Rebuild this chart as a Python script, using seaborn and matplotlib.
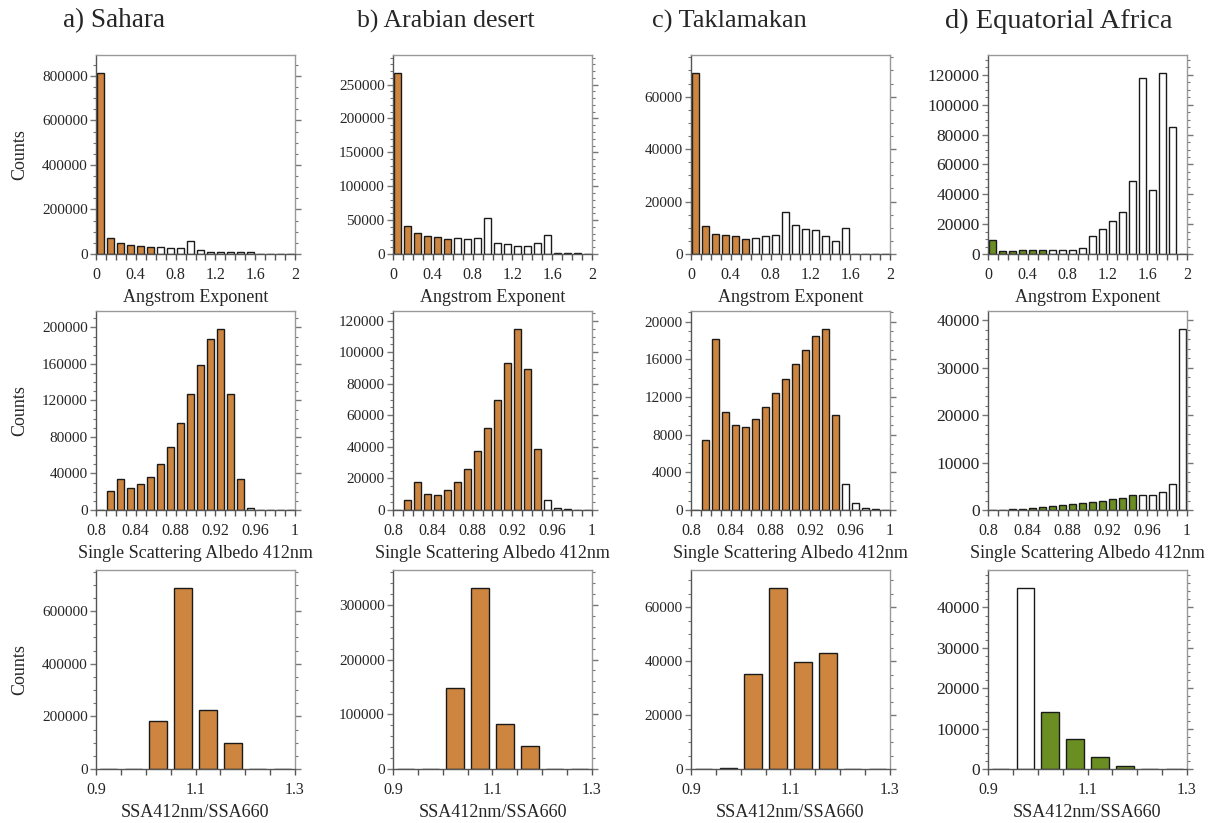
import numpy as np
import pandas as pd
import seaborn as sns
import matplotlib.pyplot as plt
from matplotlib.ticker import MultipleLocator, AutoMinorLocator, FixedLocator, FuncFormatter

# ---- data (counts) ----
regions = ["a) Sahara", "b) Arabian desert", "c) Taklamakan", "d) Equatorial Africa"]

ae_sahara = [813000, 70000, 51000, 40000, 37000, 30000, 30000, 27000, 27000, 60000,
             16000, 10000, 9000, 7500, 7000, 8000, 500, 200, 100, 50]
ae_arabian = [267000, 40700, 30900, 26500, 25500, 22000, 23000, 22000, 23500, 53400,
              16700, 14200, 12300, 11800, 16200, 28000, 1000, 1000, 800, 200]
ae_taklamakan = [69000, 10500, 7700, 7100, 6700, 5800, 6100, 6700, 7100, 16100,
                 10900, 9500, 9200, 6700, 4900, 10100, 100, 50, 150, 30]
ae_eqafrica = [9500, 2200, 2200, 2400, 2400, 2700, 2900, 2900, 2900, 3800,
               12000, 16900, 22000, 28000, 49100, 117700, 42600, 121200, 85000, 100]

ssa_sahara = [500, 20700, 33500, 23600, 28700, 36700, 50200, 69100, 95600, 127300,
              159300, 187600, 198200, 127600, 34500, 2500, 300, 200, 100, 100]
ssa_arabian = [300, 6300, 17900, 10100, 9700, 12600, 17900, 26100, 37300, 51800,
               69500, 93300, 114700, 89500, 38900, 6300, 1500, 600, 300, 300]
ssa_taklamakan = [50, 7460, 18200, 10380, 8980, 8870, 9640, 10900, 12390, 13970,
                  15560, 17040, 18520, 19220, 10100, 2780, 740, 210, 100, 30]
ssa_eqafrica = [50, 100, 200, 280, 350, 560, 770, 1120, 1330, 1540,
                1680, 1950, 2230, 2580, 3070, 3140, 3140, 3700, 5440, 38100]

ratio_sahara = [0, 300, 183600, 687400, 225300, 98700, 0, 0]
ratio_arabian = [0, 500, 147900, 330500, 82800, 41400, 0, 0]
ratio_taklamakan = [0, 200, 35100, 67100, 39600, 43200, 0, 0]
ratio_eqafrica = [0, 44800, 14000, 7340, 3050, 740, 30, 0]

ae_bins = np.round(np.arange(0.05, 2.0, 0.1), 3)
ssa_bins = np.round(np.arange(0.805, 1.0, 0.01), 4)
ratio_bins = np.round(np.arange(0.925, 1.3, 0.05), 4)

ae_ticks = [0, 0.4, 0.8, 1.2, 1.6, 2]
ssa_ticks = [0.8, 0.84, 0.88, 0.92, 0.96, 1]
ratio_ticks = [0.9, 1.1, 1.3]

rows = [
    dict(bins=ae_bins, data=[ae_sahara, ae_arabian, ae_taklamakan, ae_eqafrica],
         dust=ae_bins < 0.6, xlim=(0, 2), xticks=ae_ticks, xminor=0.1,
         label="Angstrom Exponent", ystep=[200000, 50000, 20000, 20000]),
    dict(bins=ssa_bins, data=[ssa_sahara, ssa_arabian, ssa_taklamakan, ssa_eqafrica],
         dust=ssa_bins < 0.95, xlim=(0.8, 1.0), xticks=ssa_ticks, xminor=0.01,
         label="Single Scattering Albedo 412nm", ystep=[40000, 20000, 4000, 10000]),
    dict(bins=ratio_bins, data=[ratio_sahara, ratio_arabian, ratio_taklamakan, ratio_eqafrica],
         dust=ratio_bins > 1.0, xlim=(0.9, 1.3), xticks=ratio_ticks, xminor=0.05,
         label="SSA412nm/SSA660", ystep=[200000, 100000, 20000, 10000]),
]

orange = "#CD853F"
green = "#6B8E23"

sns.set_theme(style="white")
plt.rcParams['font.family'] = ['Liberation Serif', 'DejaVu Serif']

W, H = 1211, 823
fig = plt.figure(figsize=(W / 100, H / 100), dpi=100)

col_left = [96, 393, 691, 988]
row_top = [55, 311, 570]
aw, ah = 199, 199

for r, row in enumerate(rows):
    for c in range(4):
        ax = fig.add_axes([col_left[c] / W, 1 - (row_top[r] + ah) / H, aw / W, ah / H])
        df = pd.DataFrame({"x": row["bins"], "count": row["data"][c],
                           "kind": np.where(row["dust"], "dust", "other")})
        fill = green if c == 3 else orange
        sns.barplot(data=df, x="x", y="count", hue="kind",
                    palette={"dust": fill, "other": "white"}, saturation=1,
                    native_scale=True, width=0.7, dodge=False, errorbar=None,
                    edgecolor="#1a1a1a", linewidth=1.0, legend=False, ax=ax)
        ax.set_xlim(*row["xlim"])
        ax.set_ylim(0, max(row["data"][c]) * 1.1)
        ax.xaxis.set_major_locator(FixedLocator(row["xticks"]))
        ax.xaxis.set_minor_locator(MultipleLocator(row["xminor"]))
        ax.yaxis.set_major_locator(MultipleLocator(row["ystep"][c]))
        ax.yaxis.set_minor_locator(AutoMinorLocator())
        ax.xaxis.set_major_formatter(FuncFormatter(lambda v, p: f"{v:g}"))
        ax.yaxis.set_major_formatter(FuncFormatter(lambda v, p: f"{v:.0f}"))
        ax.tick_params(axis="x", which="both", direction="out", bottom=True, top=False,
                       color="#555555", labelsize=11.5, pad=5)
        ax.tick_params(axis="x", which="major", length=4.5, width=1)
        ax.tick_params(axis="x", which="minor", length=4, width=1)
        ax.tick_params(axis="y", which="both", direction="out", left=True, right=True,
                       color="#777777", labelsize=11 if c < 3 else 12.5, pad=2)
        ax.tick_params(axis="y", which="major", length=4, width=1)
        ax.tick_params(axis="y", which="minor", length=2.5, width=0.8)
        for side, sp in ax.spines.items():
            sp.set_visible(True)
            sp.set_linewidth(1.0)
            sp.set_color("#555555" if side in ("left", "bottom") else "#999999")
        ax.set_xlabel(row["label"], fontsize=13, labelpad=4)
        if c == 0:
            ax.set_ylabel("Counts", fontsize=13, labelpad=10)
        else:
            ax.set_ylabel("")
        if r == 0:
            fig.text([63, 357, 652, 945][c] / W, 1 - 21 / H, regions[c],
                     fontsize=[19.5, 18.5, 19, 20.5][c], ha="left", va="center")

plt.savefig("out.png", dpi=100)
